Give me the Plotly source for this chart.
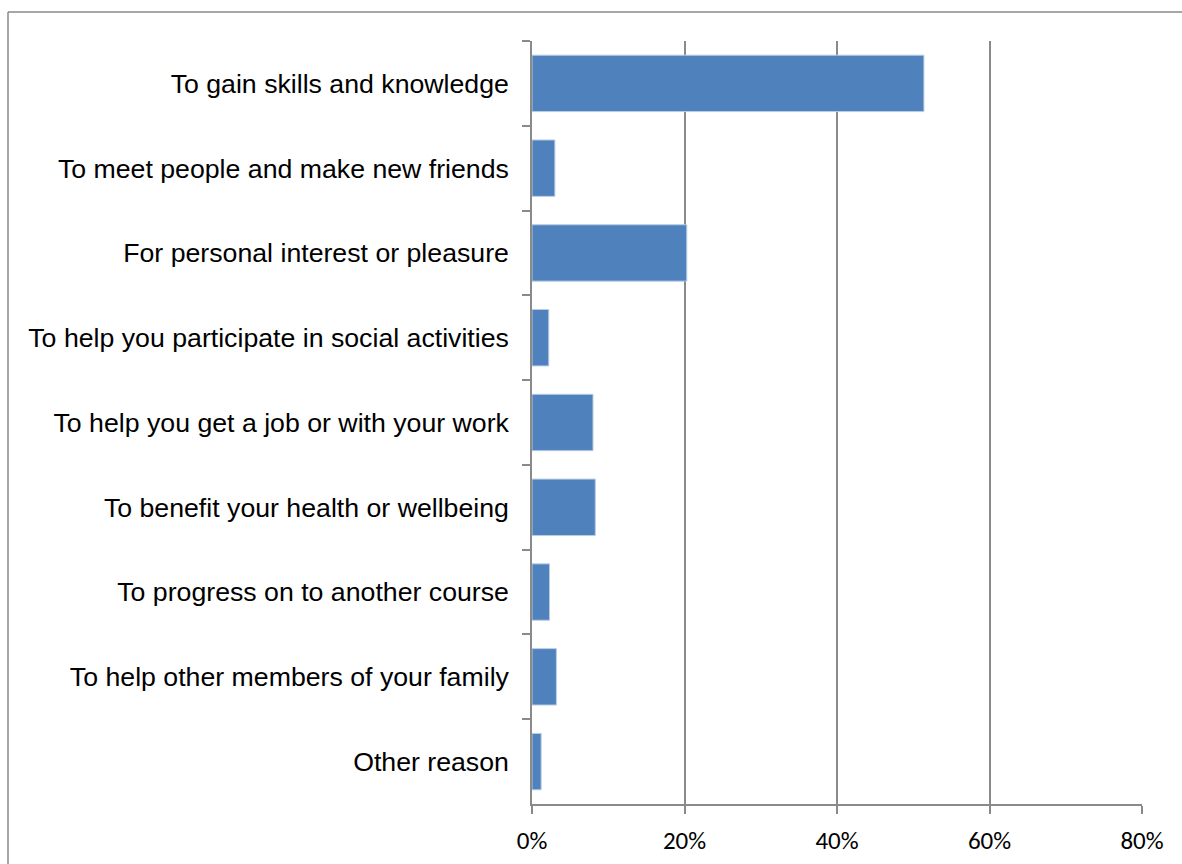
import plotly.graph_objects as go

categories = [
    "To gain skills and knowledge",
    "To meet people and make new friends",
    "For personal interest or pleasure",
    "To help you participate in social activities",
    "To help you get a job or with your work",
    "To benefit your health or wellbeing",
    "To progress on to another course",
    "To help other members of your family",
    "Other reason",
]
values = [0.514, 0.030, 0.203, 0.022, 0.080, 0.083, 0.023, 0.032, 0.012]
x_ticks = [0, 0.2, 0.4, 0.6, 0.8]

W, H = 1182, 864
L, R, T, B = 532, 40, 41, 60
pw, ph = W - L - R, H - T - B

fig = go.Figure(go.Bar(
    x=values, y=categories, orientation="h",
    marker=dict(color="#4F81BD", line=dict(color="#b9cde5", width=1)),
    hoverinfo="x+y",
))

frame_left = (8 - L) / pw
frame_top = 1 + (T - 12) / ph
frame_right = (W + 5 - L) / pw
frame_bottom = -(H + 5 - (H - B)) / ph

fig.update_layout(
    width=W, height=H,
    margin=dict(l=L, r=R, t=T, b=B, pad=0, autoexpand=False),
    paper_bgcolor="white", plot_bgcolor="white",
    bargap=0.335,
    showlegend=False,
    font=dict(family="Liberation Sans, Arial, sans-serif", color="black"),
    xaxis=dict(
        range=[0, 0.8], tickvals=x_ticks, tickformat=".0%",
        showgrid=True, gridcolor="#8a8a8a", gridwidth=1.5,
        showline=True, linecolor="#8a8a8a", linewidth=1.5,
        ticks="outside", ticklen=8, tickcolor="#8a8a8a", tickwidth=1.5,
        tickfont=dict(family="Carlito, Liberation Sans Narrow, Open Sans, sans-serif", size=25, color="black"),
        ticklabelstandoff=5, automargin=False,
        zeroline=False, fixedrange=True,
    ),
    yaxis=dict(
        categoryorder="array", categoryarray=categories, autorange="reversed",
        showgrid=False, showline=True, linecolor="#8a8a8a", linewidth=1.5,
        ticks="outside", ticklen=8, tickcolor="#8a8a8a", tickwidth=1.5,
        tickson="boundaries",
        tickfont=dict(family="Liberation Sans, Arial, sans-serif", size=26.7, color="black"),
        ticklabelstandoff=16, automargin=False,
        fixedrange=True,
    ),
    shapes=[
        dict(type="line", xref="paper", yref="paper",
             x0=frame_left, x1=frame_right, y0=frame_top, y1=frame_top,
             line=dict(color="#8a8a8a", width=1.5), layer="below"),
        dict(type="line", xref="paper", yref="paper",
             x0=frame_left, x1=frame_left, y0=frame_top, y1=frame_bottom,
             line=dict(color="#8a8a8a", width=1.5), layer="below"),
    ],
)

fig.write_html("out.html", config={"displayModeBar": False})
